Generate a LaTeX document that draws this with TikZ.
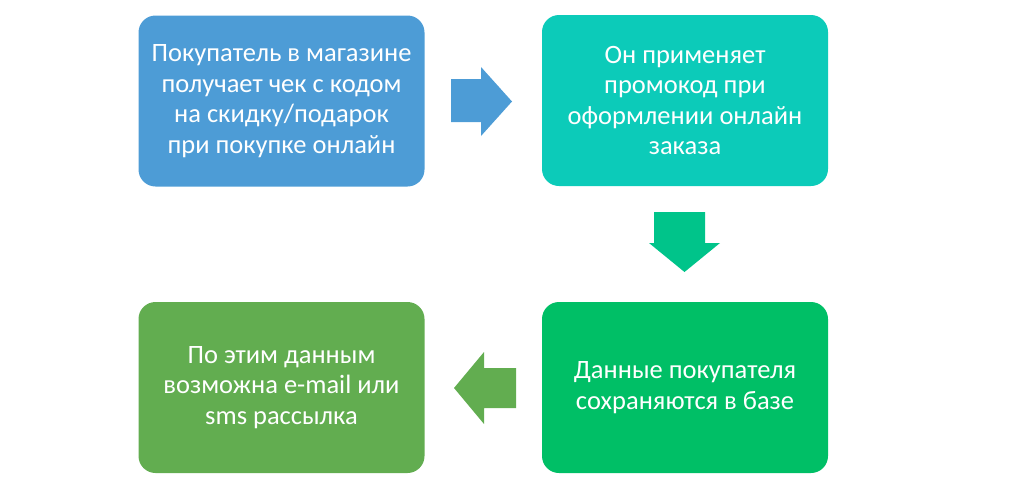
\documentclass[tikz,border=0pt]{standalone}
\usepackage{fontspec}
\setmainfont{Carlito}
\definecolor{cblue}{HTML}{4D9CD6}
\definecolor{cteal}{HTML}{0CCBB9}
\definecolor{cgreen}{HTML}{00BF66}
\definecolor{cleaf}{HTML}{62AD50}
\definecolor{cdown}{HTML}{00C48A}
\tikzset{
  stepbox/.style={rectangle, rounded corners=17pt, minimum width=286pt, minimum height=171pt,
    inner sep=0pt, text=white, align=center, font=\fontsize{26.5}{30.5}\selectfont},
}
\begin{document}
\begin{tikzpicture}[x=1pt,y=-1pt]
\useasboundingbox (0,0) rectangle (1024,485);
\node[stepbox, fill=cblue] (a) at (281.5,101) {Покупатель в магазине\\получает чек с кодом\\на скидку/подарок\\при покупке онлайн};
\node[stepbox, fill=cteal] (b) at (685,100.5) {Он применяет\\промокод при\\оформлении онлайн\\заказа};
\node[stepbox, fill=cgreen] (c) at (685,387.5) {Данные покупателя\\сохраняются в базе};
\node[stepbox, fill=cleaf] (d) at (281.5,387.5) {По этим данным\\возможна e-mail или\\sms рассылка};
% right arrow
\fill[cblue] (451,79) -- (481,79) -- (481,67) -- (512,101.5) -- (481,136) -- (481,122) -- (451,122) -- cycle;
% down arrow
\fill[cdown] (654,212) -- (705,212) -- (705,243) -- (720,243) -- (684.5,272) -- (649,243) -- (654,243) -- cycle;
% left arrow
\fill[cleaf] (516,368) -- (484,368) -- (484,352) -- (454,388) -- (484,424) -- (484,408) -- (516,408) -- cycle;
\end{tikzpicture}
\end{document}
